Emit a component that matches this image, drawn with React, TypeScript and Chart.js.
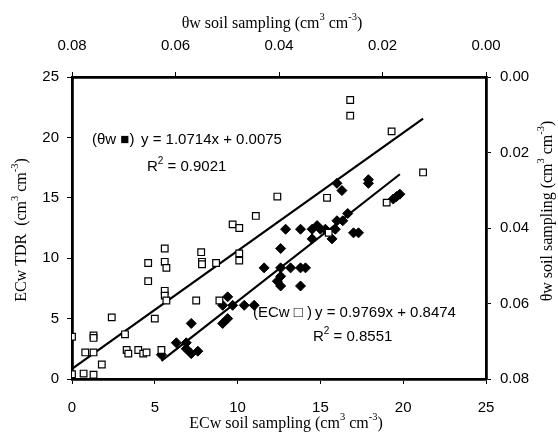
import { useEffect, useRef } from "react";
import { Chart, registerables } from "chart.js";

Chart.register(...registerables);

// ECw soil sampling (x) vs ECw TDR (y) — open squares
const ecwX = [0, 0, 0.7, 1.3, 0.8, 1.3, 1.3, 1.3, 1.8, 2.4, 3.2, 3.3, 3.4, 4.0, 4.3, 4.5, 4.6, 4.6, 5.0, 5.4, 5.6, 5.6, 5.7, 5.6, 5.6, 5.7, 7.5, 7.8, 7.85, 7.85, 8.7, 8.9, 9.7, 10.1, 10.1, 10.1, 11.1, 12.4, 15.4, 15.5, 16.8, 16.8, 19.3, 21.2, 19.0];
const ecwY = [3.5, 0.4, 0.45, 0.35, 2.2, 2.2, 3.6, 3.4, 1.2, 5.1, 3.7, 2.4, 2.1, 2.4, 2.1, 2.2, 9.6, 8.1, 5.0, 2.4, 10.8, 9.7, 9.2, 7.3, 6.9, 6.5, 6.5, 10.5, 9.7, 9.5, 9.6, 6.5, 12.8, 12.5, 10.4, 9.8, 13.5, 15.1, 15.0, 12.1, 23.1, 21.8, 20.5, 17.1, 14.6];

// θw soil sampling — filled diamonds (plotted in the ECw frame)
const thetaX = [5.4, 6.3, 6.9, 6.9, 7.2, 7.6, 7.2, 9.1, 9.4, 9.4, 9.1, 9.7, 10.4, 11.0, 11.6, 12.6, 12.6, 12.4, 12.6, 12.6, 12.9, 13.2, 13.8, 13.8, 14.1, 13.8, 14.5, 14.5, 14.8, 15.0, 15.3, 15.7, 15.9, 16.0, 16.35, 16.65, 17.0, 17.3, 16.0, 16.3, 17.9, 17.9, 19.4, 19.6, 19.8];
const thetaY = [2.0, 3.0, 3.0, 2.5, 2.1, 2.3, 4.6, 4.6, 5.0, 6.8, 6.1, 6.1, 6.1, 6.1, 9.2, 10.8, 9.2, 8.1, 7.7, 8.5, 12.4, 9.2, 12.4, 9.2, 9.2, 7.7, 12.4, 11.6, 12.7, 12.4, 12.4, 11.6, 12.4, 13.1, 13.1, 13.7, 12.1, 12.1, 16.2, 15.6, 16.5, 16.2, 14.9, 15.1, 15.3];

// regression line end points
const fitUpperX = [0, 21.2];
const fitUpperY = [0.85, 21.56];
const fitLowerX = [5.4, 19.8];
const fitLowerY = [1.5, 16.95];

// axis ranges
const ecMin = 0;
const ecMax = 25;
const ecStep = 5;
const thMin = 0;
const thMax = 0.08;
const thStep = 0.02;

const SANS = "'Liberation Sans', Arial, sans-serif";
const SERIF = "'Liberation Serif', 'Times New Roman', serif";

type Part = [string, boolean];

function drawRich(
  ctx: CanvasRenderingContext2D,
  parts: Part[],
  x: number,
  y: number,
  rot: number,
  baseFont: string,
  supFont: string,
  rise: number,
  align: "center" | "left"
) {
  ctx.save();
  ctx.translate(x, y);
  ctx.rotate(rot);
  ctx.textBaseline = "middle";
  ctx.textAlign = "left";
  ctx.fillStyle = "#000";
  let total = 0;
  const widths = parts.map(([t, s]) => {
    ctx.font = s ? supFont : baseFont;
    const w = ctx.measureText(t).width;
    total += w;
    return w;
  });
  let cx = align === "center" ? -total / 2 : 0;
  parts.forEach(([t, s], i) => {
    ctx.font = s ? supFont : baseFont;
    ctx.fillText(t, cx, s ? -rise : 0);
    cx += widths[i];
  });
  ctx.restore();
}

const decorPlugin = {
  id: "decor",
  beforeDraw(chart: any) {
    const ctx = chart.ctx;
    ctx.save();
    ctx.fillStyle = "#fff";
    ctx.fillRect(0, 0, chart.width, chart.height);
    ctx.restore();
  },
  afterDraw(chart: any) {
    const ctx = chart.ctx as CanvasRenderingContext2D;
    const tf = `16px ${SERIF}`;
    const ts = `10.5px ${SERIF}`;
    drawRich(ctx, [["θw soil sampling (cm", false], ["3", true], [" cm", false], ["-3", true], [")", false]], 272, 24, 0, tf, ts, 6.5, "center");
    drawRich(ctx, [["ECw soil sampling (cm", false], ["3", true], [" cm", false], ["-3", true], [")", false]], 286, 424, 0, tf, ts, 6.5, "center");
    drawRich(ctx, [["ECw TDR  (cm", false], ["3", true], [" cm", false], ["-3", true], [")", false]], 22, 230, -Math.PI / 2, tf, ts, 6.5, "center");
    drawRich(ctx, [["θw soil sampling (cm", false], ["3", true], [" cm", false], ["-3", true], [")", false]], 548, 211, -Math.PI / 2, tf, ts, 6.5, "center");

    const af = `15px ${SANS}`;
    const as = `10px ${SANS}`;
    drawRich(ctx, [["(θw ■)", false]], 92, 140, 0, af, as, 6, "left");
    drawRich(ctx, [["y = 1.0714x + 0.0075", false]], 141, 140, 0, af, as, 6, "left");
    drawRich(ctx, [["R", false], ["2", true], [" = 0.9021", false]], 147, 167, 0, af, as, 6, "left");
    drawRich(ctx, [["(ECw □ )", false]], 253, 313, 0, af, as, 6, "left");
    drawRich(ctx, [["y = 0.9769x + 0.8474", false]], 315, 313, 0, af, as, 6, "left");
    drawRich(ctx, [["R", false], ["2", true], [" = 0.8551", false]], 313, 337, 0, af, as, 6, "left");
  },
};

export default function App() {
  const ref = useRef<HTMLCanvasElement | null>(null);
  useEffect(() => {
    if (!ref.current) return;
    const tickFont = { family: SANS, size: 15 };
    const grid = {
      drawOnChartArea: false,
      drawTicks: true,
      tickLength: 5,
      color: "#000",
      lineWidth: 1,
    };
    const border = { display: true, color: "#000", width: 2.8 };
    const chart = new Chart(ref.current, {
      type: "scatter",
      data: {
        datasets: [
          {
            label: "ECw",
            data: ecwX.map((x, i) => ({ x, y: ecwY[i] })),
            pointStyle: "rect",
            pointRadius: 4.7,
            backgroundColor: "#fff",
            borderColor: "#000",
            borderWidth: 1.2,
            xAxisID: "x",
            yAxisID: "y",
          },
          {
            label: "θw",
            data: thetaX.map((x, i) => ({ x, y: thetaY[i] })),
            pointStyle: "rectRot",
            pointRadius: 5,
            backgroundColor: "#000",
            borderColor: "#000",
            borderWidth: 1,
            xAxisID: "x",
            yAxisID: "y",
          },
          {
            type: "line",
            label: "fit upper",
            data: fitUpperX.map((x, i) => ({ x, y: fitUpperY[i] })),
            borderColor: "#000",
            borderWidth: 2.2,
            pointRadius: 0,
            showLine: true,
            fill: false,
            xAxisID: "x",
            yAxisID: "y",
          },
          {
            type: "line",
            label: "fit lower",
            data: fitLowerX.map((x, i) => ({ x, y: fitLowerY[i] })),
            borderColor: "#000",
            borderWidth: 2.2,
            pointRadius: 0,
            showLine: true,
            fill: false,
            xAxisID: "x",
            yAxisID: "y",
          },
        ] as any,
      },
      options: {
        responsive: false,
        animation: false,
        layout: { padding: 0 },
        plugins: {
          legend: { display: false },
          tooltip: { enabled: false },
        },
        scales: {
          x: {
            type: "linear",
            position: "bottom",
            min: ecMin,
            max: ecMax,
            ticks: { stepSize: ecStep, color: "#000", font: tickFont, padding: 15, maxRotation: 0 },
            grid,
            border,
            afterFit: (s: any) => {
              s.height = 58;
            },
          },
          x2: {
            type: "linear",
            position: "top",
            min: thMin,
            max: thMax,
            reverse: true,
            ticks: {
              stepSize: thStep,
              color: "#000",
              font: tickFont,
              padding: 17,
              maxRotation: 0,
              callback: (v: any) => Number(v).toFixed(2),
            },
            grid,
            border,
            afterFit: (s: any) => {
              s.height = 77;
            },
          },
          y: {
            type: "linear",
            position: "left",
            min: ecMin,
            max: ecMax,
            ticks: { stepSize: ecStep, color: "#000", font: tickFont, padding: 8 },
            grid,
            border,
            afterFit: (s: any) => {
              s.width = 72;
            },
          },
          y2: {
            type: "linear",
            position: "right",
            min: thMin,
            max: thMax,
            reverse: true,
            ticks: {
              stepSize: thStep,
              color: "#000",
              font: tickFont,
              padding: 9,
              callback: (v: any) => Number(v).toFixed(2),
            },
            grid,
            border,
            afterFit: (s: any) => {
              s.width = 72;
            },
          },
        },
      } as any,
      plugins: [decorPlugin],
    });
    return () => chart.destroy();
  }, []);
  return (
    <div style={{ position: "absolute", left: 0, top: 0, width: 558, height: 437 }}>
      <canvas ref={ref} width={558} height={437} style={{ display: "block" }} />
    </div>
  );
}
